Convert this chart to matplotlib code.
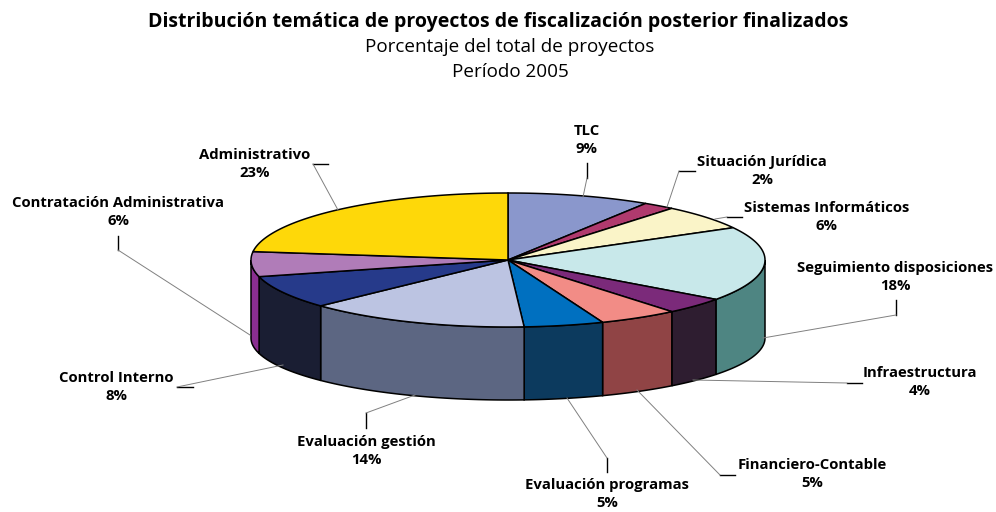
import numpy as np
import matplotlib
matplotlib.use("Agg")
import matplotlib.pyplot as plt
from matplotlib.patches import Polygon

plt.rcParams['font.family'] = ['Open Sans', 'DejaVu Sans']

# data (clockwise from 12 o'clock)
categories = ["TLC", "Situación Jurídica", "Sistemas Informáticos",
              "Seguimiento disposiciones", "Infraestructura", "Financiero-Contable",
              "Evaluación programas", "Evaluación gestión", "Control Interno",
              "Contratación Administrativa", "Administrativo"]
values = [9, 2, 6, 18, 4, 5, 5, 14, 8, 6, 23]

top_colors = ["#8a97cc", "#b03a6e", "#faf4c8", "#c8e8ea", "#7b2a7a", "#f28c86",
              "#0070c0", "#bcc4e2", "#263a8a", "#b07cb8", "#fed809"]
side_colors = ["#5c6890", "#7a2048", "#b0aa80", "#4e8582", "#2e1d30", "#904445",
               "#0c3a5e", "#5c6682", "#1a1e33", "#8a2e90", "#b09400"]

# layout (pixels)
cx, cy, a, b = 508, 260, 257, 67
bot_cy, bot_b = 338, 62

# label anchor, leader line (label end -> black tick -> pie edge)
label_pos = [(587, 140), (762, 171), (827, 217), (895, 277), (920, 382),
             (812, 474), (607, 494), (366, 451), (116, 387), (118, 212), (255, 164)]
leaders = [
    [(587, 163), (587, 178), (583, 197)],
    [(695, 171), (679, 171), (667, 207)],
    [(742, 217), (727, 217), (715, 219)],
    [(896, 300), (896, 315), (763, 338)],
    [(862, 383), (847, 383), (693, 380)],
    [(735, 475), (720, 475), (637, 390)],
    [(607, 472), (607, 458), (567, 398)],
    [(366, 428), (366, 413), (415, 395)],
    [(193, 387), (177, 387), (283, 365)],
    [(118, 236), (118, 250), (250, 335)],
    [(328, 164), (313, 164), (338, 210)],
]


def top_pt(t):
    return cx + a * np.sin(t), cy - b * np.cos(t)


def bot_pt(t):
    return cx + a * np.sin(t), bot_cy - bot_b * np.cos(t)


fig = plt.figure(figsize=(9.96, 5.12), dpi=100)
ax = fig.add_axes([0, 0, 1, 1])
ax.set_xlim(0, 996)
ax.set_ylim(512, 0)
ax.axis('off')

fracs = np.array(values) / np.sum(values)
ends = np.cumsum(fracs) * 2 * np.pi
starts = ends - fracs * 2 * np.pi

# side walls (front half only)
for s, e, col in zip(starts, ends, side_colors):
    lo, hi = max(s, np.pi / 2), min(e, 3 * np.pi / 2)
    if hi <= lo:
        continue
    t = np.linspace(lo, hi, 60)
    xt, yt = top_pt(t)
    xb, yb = bot_pt(t[::-1])
    pts = np.column_stack([np.r_[xt, xb], np.r_[yt, yb]])
    ax.add_patch(Polygon(pts, closed=True, fc=col, ec='black', lw=1.1, zorder=2))

# top wedges
for s, e, col in zip(starts, ends, top_colors):
    t = np.linspace(s, e, 100)
    xt, yt = top_pt(t)
    pts = np.column_stack([np.r_[cx, xt], np.r_[cy, yt]])
    ax.add_patch(Polygon(pts, closed=True, fc=col, ec='black', lw=1.1, zorder=3))

# labels and leader lines
for cat, v, (lx, ly), ld in zip(categories, values, label_pos, leaders):
    ax.text(lx, ly, f"{cat}\n{v}%", ha='center', va='center', fontsize=10.7,
            fontweight='bold', linespacing=1.4, zorder=5)
    ax.plot([ld[0][0], ld[1][0]], [ld[0][1], ld[1][1]], color='black', lw=1, zorder=4)
    ax.plot([ld[1][0], ld[2][0]], [ld[1][1], ld[2][1]], color='#808080', lw=0.7, zorder=4)

ax.text(498, 22, "Distribución temática de proyectos de fiscalización posterior finalizados",
        ha='center', va='center', fontsize=14, fontweight='bold')
ax.text(510, 47, "Porcentaje del total de proyectos", ha='center', va='center', fontsize=13.6)
ax.text(510, 72, "Período 2005", ha='center', va='center', fontsize=13.6)

fig.savefig("out.png", dpi=100)
